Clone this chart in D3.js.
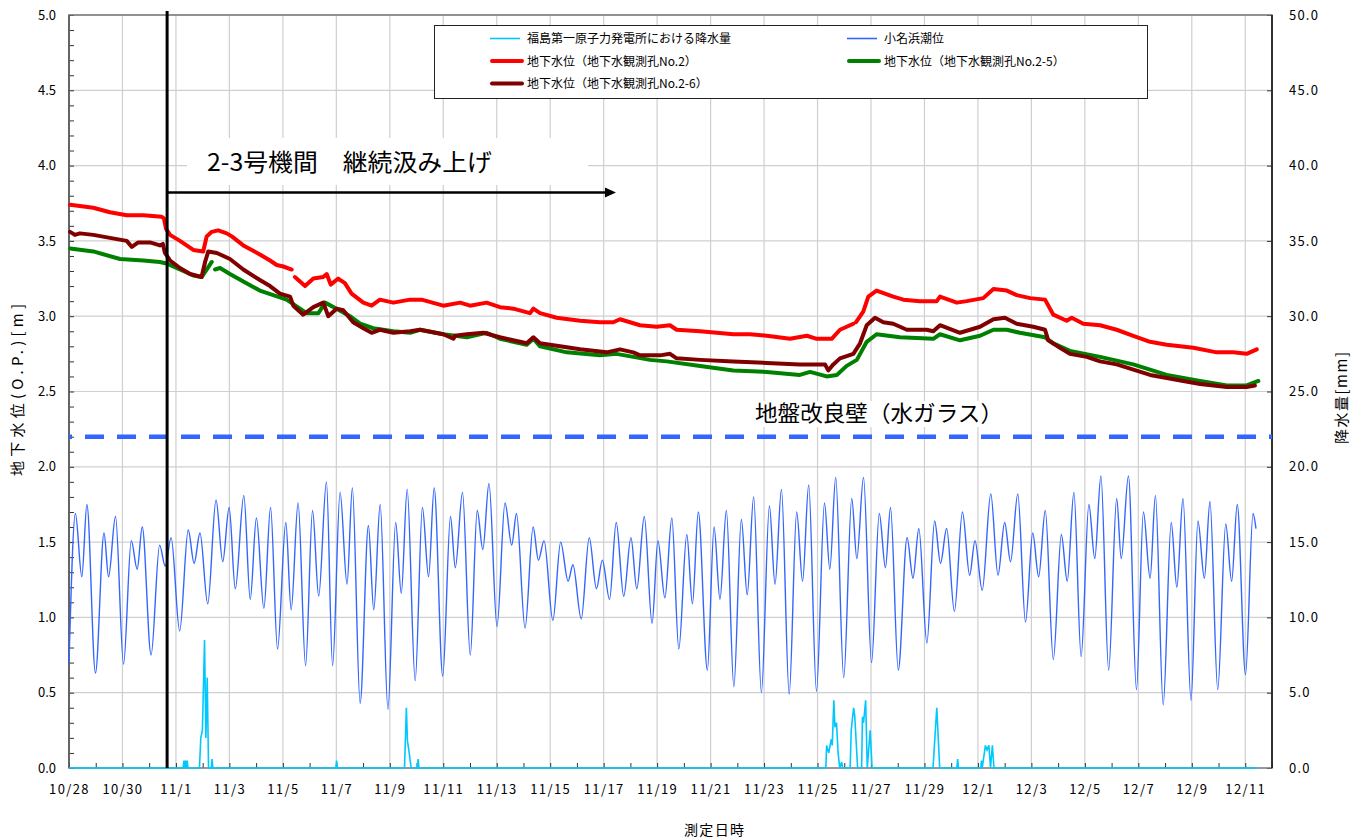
<!DOCTYPE html>
<html>
<head>
<meta charset="utf-8">
<script src="https://cdn.jsdelivr.net/npm/d3@7"></script>
<style>
  body { margin: 0; background: #fff; }
  svg { display: block; font-family: "Noto Sans CJK JP", "Noto Sans", sans-serif; }
</style>
</head>
<body>
<svg id="chart" width="1353" height="840"></svg>
<script>
// Time axis: days elapsed since 10/28 00:00
const dayTicks = d3.range(0, 45, 2);
const dayLabels = ["10/28","10/30","11/1","11/3","11/5","11/7","11/9","11/11","11/13","11/15",
  "11/17","11/19","11/21","11/23","11/25","11/27","11/29","12/1","12/3","12/5","12/7","12/9","12/11"];
const levelTicks = d3.range(0, 5.01, 0.5);
const rainTicks = d3.range(0, 50.1, 5);

// Rainfall at Fukushima Daiichi [mm]  (day, value)
const rain = [
  [0,0],[4.27,0],[4.30,0.5],[4.33,0],[4.36,0.5],[4.39,0],[4.42,0.5],[4.45,0],
  [4.88,0],[4.93,2.0],[4.99,2.5],[5.07,8.5],[5.12,2.0],[5.17,6.0],[5.22,0],
  [5.32,0],[5.35,0.6],[5.38,0],
  [9.98,0],[10.01,0.5],[10.04,0],
  [12.55,0],[12.62,4.0],[12.66,1.8],[12.71,1.2],[12.80,0],
  [13.03,0],[13.06,0.6],[13.09,0],
  [28.31,0],[28.34,1.5],[28.42,1.0],[28.51,1.9],[28.55,1.5],[28.61,4.5],[28.65,2.7],
  [28.71,3.0],[28.77,1.0],[28.83,0],[28.90,0.4],[28.94,0],
  [29.22,0],[29.26,2.5],[29.35,4.0],[29.39,3.5],[29.50,0],
  [29.65,0],[29.68,3.4],[29.72,3.0],[29.80,4.5],[29.86,0],[29.97,2.5],[30.04,0],
  [32.32,0],[32.46,4.0],[32.57,0],
  [33.21,0],[33.24,0.6],[33.27,0],
  [34.11,0],[34.13,0.5],[34.16,0],[34.28,1.5],[34.34,1.2],[34.41,1.5],[34.47,0],[34.54,1.5],[34.60,0],
  [44.45,0]
];

// Onahama tide level [m] (successive highs and lows)
const tide = [
  [0.00,0.70],[0.24,1.69],[0.48,1.27],[0.67,1.75],[0.99,0.63],[1.31,1.56],[1.48,1.27],[1.74,1.67],
  [2.04,0.69],[2.33,1.51],[2.55,1.32],[2.74,1.60],[3.07,0.75],[3.39,1.48],[3.60,1.34],[3.82,1.53],
  [4.14,0.91],[4.46,1.58],[4.68,1.36],[4.90,1.56],[5.19,1.09],[5.50,1.78],[5.75,1.37],[5.99,1.73],
  [6.22,1.19],[6.54,1.81],[6.78,1.12],[7.01,1.66],[7.29,1.06],[7.54,1.73],[7.80,0.79],[8.11,1.63],
  [8.31,1.05],[8.57,1.76],[8.85,0.68],[9.11,1.71],[9.34,1.14],[9.63,1.90],[9.86,0.68],[10.14,1.83],
  [10.40,1.22],[10.60,1.86],[10.89,0.43],[11.20,1.61],[11.40,1.05],[11.64,1.75],[11.93,0.39],[12.22,1.63],
  [12.43,1.16],[12.65,1.85],[12.95,0.58],[13.22,1.73],[13.45,1.27],[13.66,1.86],[13.98,0.61],[14.27,1.67],
  [14.45,1.33],[14.72,1.83],[15.01,0.75],[15.27,1.71],[15.48,1.45],[15.71,1.89],[16.01,0.94],[16.31,1.76],
  [16.56,1.48],[16.74,1.69],[17.06,0.93],[17.36,1.60],[17.56,1.38],[17.77,1.51],[18.10,0.98],[18.39,1.50],
  [18.67,1.24],[18.85,1.35],[19.16,0.99],[19.46,1.53],[19.73,1.19],[19.95,1.38],[20.22,1.12],[20.47,1.63],
  [20.75,1.14],[21.02,1.53],[21.24,1.19],[21.52,1.67],[21.81,0.96],[22.03,1.51],[22.29,1.13],[22.55,1.66],
  [22.81,0.79],[23.11,1.55],[23.32,1.09],[23.54,1.70],[23.88,0.65],[24.13,1.60],[24.35,1.12],[24.59,1.71],
  [24.87,0.54],[25.15,1.65],[25.37,1.15],[25.61,1.80],[25.90,0.50],[26.20,1.74],[26.41,1.22],[26.65,1.85],
  [26.94,0.49],[27.22,1.70],[27.44,1.24],[27.67,1.88],[27.96,0.51],[28.26,1.76],[28.46,1.32],[28.68,1.93],
  [28.98,0.60],[29.28,1.79],[29.47,1.39],[29.72,1.93],[30.02,0.70],[30.31,1.69],[30.54,1.33],[30.73,1.73],
  [31.02,0.65],[31.35,1.53],[31.57,1.26],[31.79,1.59],[32.09,0.83],[32.38,1.64],[32.60,1.36],[32.83,1.59],
  [33.12,1.04],[33.42,1.70],[33.69,1.28],[33.89,1.51],[34.16,1.18],[34.48,1.82],[34.75,1.28],[35.00,1.63],
  [35.22,1.37],[35.49,1.82],[35.78,0.97],[36.05,1.56],[36.27,1.27],[36.52,1.71],[36.82,0.72],[37.12,1.55],
  [37.34,1.24],[37.59,1.83],[37.86,0.74],[38.15,1.75],[38.37,1.39],[38.60,1.94],[38.89,0.65],[39.19,1.79],
  [39.36,1.39],[39.63,1.94],[39.93,0.52],[40.19,1.70],[40.44,1.26],[40.64,1.81],[40.93,0.42],[41.23,1.63],
  [41.44,1.20],[41.67,1.79],[41.97,0.45],[42.23,1.64],[42.47,1.26],[42.68,1.77],[42.97,0.52],[43.27,1.62],
  [43.49,1.24],[43.70,1.75],[44.01,0.62],[44.29,1.69],[44.40,1.59]
];

// Groundwater level, observation well No.2 [m]  (null = missing)
const well2 = [
  [0.04,3.74],[0.91,3.72],[1.53,3.69],[2.16,3.67],[2.78,3.67],[3.47,3.66],[3.55,3.65],[3.63,3.58],
  [3.78,3.54],[4.15,3.50],[4.65,3.44],[5.02,3.43],[5.15,3.53],[5.34,3.56],[5.58,3.57],[5.90,3.55],
  [6.09,3.53],[6.52,3.47],[7.14,3.41],[7.52,3.37],[7.77,3.34],[8.02,3.33],[8.33,3.31],[8.39,null],
  [8.45,3.26],[8.83,3.20],[9.14,3.25],[9.51,3.26],[9.64,3.28],[9.79,3.21],[10.07,3.25],[10.32,3.22],
  [10.57,3.15],[11.01,3.09],[11.32,3.07],[11.63,3.11],[12.13,3.09],[12.76,3.11],[13.19,3.11],[14.00,3.07],
  [14.63,3.09],[15.00,3.07],[15.62,3.09],[16.12,3.06],[16.62,3.05],[17.24,3.02],[17.37,3.05],[17.62,3.02],
  [18.24,2.99],[19.12,2.97],[19.86,2.96],[20.36,2.96],[20.61,2.98],[21.36,2.94],[21.98,2.93],[22.48,2.94],
  [22.73,2.91],[23.61,2.90],[24.23,2.89],[24.85,2.88],[25.47,2.88],[26.10,2.87],[26.97,2.85],[27.60,2.87],
  [27.97,2.85],[28.53,2.85],[28.84,2.91],[29.34,2.95],[29.39,null],[29.44,2.96],[29.71,3.03],[29.90,3.13],
  [30.21,3.17],[30.83,3.13],[31.21,3.11],[31.83,3.10],[32.46,3.10],[32.58,3.13],[33.21,3.09],[33.58,3.10],
  [34.20,3.12],[34.58,3.18],[35.08,3.17],[35.45,3.14],[35.95,3.12],[36.51,3.11],[36.82,3.01],[37.32,2.97],
  [37.51,2.99],[37.94,2.95],[38.57,2.94],[39.19,2.91],[39.81,2.87],[40.44,2.83],[41.06,2.81],[42.06,2.79],
  [42.93,2.76],[43.55,2.76],[44.05,2.75],[44.43,2.78]
];

// Groundwater level, observation well No.2-5 [m]
const well25 = [
  [0.04,3.45],[0.91,3.43],[1.91,3.38],[2.78,3.37],[3.40,3.36],[3.65,3.35],[4.15,3.31],[4.65,3.27],
  [4.96,3.26],[5.15,3.31],[5.34,3.36],[5.40,null],[5.46,3.31],[5.65,3.32],[6.02,3.28],[6.52,3.23],
  [7.14,3.17],[7.64,3.14],[8.14,3.11],[8.64,3.05],[8.89,3.02],[9.33,3.02],[9.58,3.09],[10.01,3.05],
  [10.51,3.00],[10.89,2.95],[11.38,2.92],[12.13,2.90],[12.76,2.89],[13.13,2.91],[14.00,2.88],[14.88,2.86],
  [15.62,2.89],[16.12,2.85],[17.12,2.81],[17.37,2.85],[17.62,2.80],[18.62,2.76],[19.86,2.74],[20.48,2.75],
  [21.11,2.73],[21.73,2.71],[22.36,2.70],[23.61,2.67],[24.85,2.64],[26.10,2.63],[27.34,2.61],[27.72,2.63],
  [28.34,2.60],[28.72,2.61],[29.09,2.67],[29.47,2.71],[29.84,2.83],[30.21,2.88],[31.08,2.86],[32.33,2.85],
  [32.58,2.88],[33.33,2.84],[34.08,2.87],[34.58,2.91],[35.08,2.91],[35.57,2.89],[36.51,2.86],[36.82,2.82],
  [37.44,2.77],[38.57,2.73],[39.81,2.68],[41.06,2.61],[42.31,2.57],[43.31,2.54],[44.05,2.54],[44.49,2.57]
];

// Groundwater level, observation well No.2-6 [m]
const well26 = [
  [0.04,3.56],[0.22,3.54],[0.41,3.55],[0.91,3.54],[1.53,3.52],[2.16,3.50],[2.35,3.46],[2.59,3.49],
  [3.03,3.49],[3.40,3.47],[3.51,3.48],[3.59,3.42],[3.78,3.37],[4.15,3.32],[4.53,3.28],[4.96,3.26],
  [5.09,3.36],[5.21,3.43],[5.53,3.42],[6.02,3.38],[6.52,3.31],[7.14,3.24],[7.52,3.20],[7.89,3.15],
  [8.27,3.13],[8.39,3.07],[8.76,3.01],[9.14,3.06],[9.51,3.09],[9.70,3.00],[10.01,3.05],[10.26,3.04],
  [10.63,2.96],[11.01,2.92],[11.32,2.89],[11.63,2.91],[12.13,2.89],[12.76,2.90],[13.13,2.91],[14.00,2.88],
  [14.38,2.85],[14.44,2.87],[14.88,2.88],[15.50,2.89],[16.12,2.86],[17.12,2.82],[17.37,2.86],[17.62,2.82],
  [18.37,2.80],[19.12,2.78],[20.11,2.76],[20.61,2.78],[21.11,2.76],[21.36,2.74],[22.11,2.74],[22.48,2.75],
  [22.73,2.72],[23.61,2.71],[24.85,2.70],[26.10,2.69],[27.34,2.68],[28.28,2.68],[28.40,2.64],[28.59,2.68],
  [28.84,2.72],[29.34,2.75],[29.59,2.82],[29.84,2.94],[30.15,2.99],[30.46,2.96],[30.83,2.95],[31.34,2.91],
  [32.08,2.91],[32.33,2.90],[32.58,2.94],[33.33,2.89],[34.08,2.93],[34.58,2.98],[35.01,2.99],[35.45,2.95],
  [36.07,2.93],[36.51,2.91],[36.63,2.84],[37.07,2.79],[37.44,2.75],[38.07,2.73],[38.57,2.70],[39.19,2.68],
  [40.44,2.61],[41.68,2.57],[42.31,2.55],[43.31,2.53],[44.05,2.53],[44.36,2.54]
];

const barrierLevel = 2.2;     // ground improvement wall (water glass)
const pumpStart = 3.67;       // start of continuous pumping between Units 2-3
const pumpArrowEnd = 20.46;

// ---- layout ----
const svg = d3.select("#chart");
const L = 69, R = 1272, T = 15, B = 768;
const x = d3.scaleLinear().domain([0, 45]).range([L, R]);
const y = d3.scaleLinear().domain([0, 5]).range([B, T]);
const yR = d3.scaleLinear().domain([0, 50]).range([B, T]);

const gridColor = "#cfcfcf";

// grid
const grid = svg.append("g");
grid.selectAll(".vg").data(dayTicks.slice(1)).join("line")
  .attr("x1", d => x(d)).attr("x2", d => x(d)).attr("y1", T).attr("y2", B)
  .attr("stroke", gridColor).attr("stroke-width", 1.2);
grid.selectAll(".hg").data(levelTicks.slice(1)).join("line")
  .attr("x1", L).attr("x2", R).attr("y1", d => y(d)).attr("y2", d => y(d))
  .attr("stroke", gridColor).attr("stroke-width", 1.2);

// annotation backgrounds (hide grid behind labels)
svg.append("rect").attr("x", 187).attr("y", 138).attr("width", 401).attr("height", 47).attr("fill", "#fff");
svg.append("rect").attr("x", 750).attr("y", 401).attr("width", 260).attr("height", 26).attr("fill", "#fff");

// axes
const fontSize = 13;
const axL = svg.append("g").attr("transform", `translate(${L},0)`)
  .call(d3.axisLeft(y).tickValues(d3.range(0, 5.001, 0.1)).tickSize(-5).tickFormat(""));
const axLlab = svg.append("g").attr("transform", `translate(${L},0)`)
  .call(d3.axisLeft(y).tickValues(levelTicks).tickSize(0).tickPadding(13).tickFormat(d3.format(".1f")));
const axR = svg.append("g").attr("transform", `translate(${R},0)`)
  .call(d3.axisRight(yR).tickValues(rainTicks).tickSize(-5).tickPadding(17).tickFormat(d3.format(".1f")));
const axB = svg.append("g").attr("transform", `translate(0,${B})`)
  .call(d3.axisBottom(x).tickValues(d3.range(0, 45.01, 1)).tickSize(-5).tickFormat(""));
const axBlab = svg.append("g").attr("transform", `translate(0,${B})`)
  .call(d3.axisBottom(x).tickValues(dayTicks).tickSize(0).tickPadding(17).tickFormat((d, i) => dayLabels[i]));

[axL, axLlab, axR, axB, axBlab].forEach(g => {
  g.select(".domain").remove();
  g.selectAll(".tick line").attr("stroke", "#333").attr("stroke-width", 1);
  g.selectAll("text").attr("font-size", fontSize).attr("fill", "#000")
    .attr("font-family", '"Noto Sans CJK JP", "Noto Sans", sans-serif');
});
axR.selectAll("text").attr("letter-spacing", 1.2);
axBlab.selectAll("text").attr("letter-spacing", 1.4);

// frame
svg.append("rect").attr("x", L).attr("y", T).attr("width", R - L).attr("height", B - T)
  .attr("fill", "none").attr("stroke", "#777").attr("stroke-width", 1.5);
svg.append("line").attr("x1", R).attr("x2", R).attr("y1", T).attr("y2", B)
  .attr("stroke", "#111").attr("stroke-width", 1.5);
svg.append("line").attr("x1", L).attr("x2", L).attr("y1", T).attr("y2", B)
  .attr("stroke", "#555").attr("stroke-width", 1.5);

// series
const plot = svg.append("g");
const rainLine = d3.line().x(d => x(d[0])).y(d => yR(d[1]));
const tideLine = d3.line().x(d => x(d[0])).y(d => y(d[1])).curve(d3.curveMonotoneX);
const wellLine = d3.line().defined(d => d[1] !== null).x(d => x(d[0])).y(d => y(d[1]));

plot.append("path").datum(tide).attr("d", tideLine)
  .attr("fill", "none").attr("stroke", "#3366ff").attr("stroke-width", 1.4);
plot.append("path").datum(rain).attr("d", rainLine)
  .attr("fill", "none").attr("stroke", "#00c8ff").attr("stroke-width", 1.6);

const wells = [
  { data: well25, color: "#008000" },
  { data: well26, color: "#800000" },
  { data: well2, color: "#ff0000" }
];
wells.forEach(w => {
  plot.append("path").datum(w.data).attr("d", wellLine)
    .attr("fill", "none").attr("stroke", w.color).attr("stroke-width", 4)
    .attr("stroke-linejoin", "round").attr("stroke-linecap", "round");
});

// ground improvement wall level
plot.append("line").attr("x1", L).attr("x2", R)
  .attr("y1", y(barrierLevel)).attr("y2", y(barrierLevel))
  .attr("stroke", "#3366ff").attr("stroke-width", 4.5)
  .attr("stroke-dasharray", "19 13").attr("stroke-dashoffset", 16);

svg.append("text").attr("x", 755).attr("y", 421)
  .attr("font-size", 22).attr("fill", "#000").attr("textLength", 248).attr("lengthAdjust", "spacingAndGlyphs")
  .text("地盤改良壁（水ガラス）");

// pumping period marker
svg.append("line").attr("x1", x(pumpStart)).attr("x2", x(pumpStart)).attr("y1", 11).attr("y2", B)
  .attr("stroke", "#000").attr("stroke-width", 3);
const ay = 192.5;
svg.append("line").attr("x1", x(pumpStart)).attr("x2", x(pumpArrowEnd) - 8).attr("y1", ay).attr("y2", ay)
  .attr("stroke", "#000").attr("stroke-width", 2.5);
svg.append("path")
  .attr("d", `M${x(pumpArrowEnd)},${ay} L${x(pumpArrowEnd) - 11},${ay - 5} L${x(pumpArrowEnd) - 11},${ay + 5} Z`)
  .attr("fill", "#000");
svg.append("text").attr("x", 207).attr("y", 171)
  .attr("font-size", 24).attr("fill", "#000").attr("textLength", 285).attr("lengthAdjust", "spacingAndGlyphs")
  .text("2-3号機間　継続汲み上げ");

// axis titles
svg.append("text").attr("transform", "translate(23,390) rotate(-90)")
  .attr("text-anchor", "middle").attr("font-size", 15)
  .attr("textLength", 172).attr("lengthAdjust", "spacing").text("地下水位(O.P.)[m]");
svg.append("text").attr("transform", "translate(1347,398) rotate(-90)")
  .attr("text-anchor", "middle").attr("font-size", 15)
  .attr("textLength", 92).attr("lengthAdjust", "spacing").text("降水量[mm]");
svg.append("text").attr("x", 714).attr("y", 835)
  .attr("text-anchor", "middle").attr("font-size", 14)
  .attr("textLength", 60).attr("lengthAdjust", "spacing").text("測定日時");

// legend
const leg = svg.append("g");
leg.append("rect").attr("x", 434.5).attr("y", 25.5).attr("width", 713).attr("height", 73)
  .attr("fill", "#fff").attr("stroke", "#222").attr("stroke-width", 1);
const legendItems = [
  { label: "福島第一原子力発電所における降水量", color: "#00c8ff", w: 1.6, col: 0, row: 0 },
  { label: "小名浜潮位", color: "#3366ff", w: 1.6, col: 1, row: 0 },
  { label: "地下水位（地下水観測孔No.2）", color: "#ff0000", w: 4, col: 0, row: 1 },
  { label: "地下水位（地下水観測孔No.2-5）", color: "#008000", w: 4, col: 1, row: 1 },
  { label: "地下水位（地下水観測孔No.2-6）", color: "#800000", w: 4, col: 0, row: 2 }
];
const colX = [490, 847], rowY = [38.5, 61, 83.5];
legendItems.forEach(it => {
  const lx = colX[it.col], ly = rowY[it.row];
  leg.append("line").attr("x1", lx + (it.w > 2 ? 2 : 0)).attr("x2", lx + (it.w > 2 ? 32 : 30))
    .attr("y1", ly).attr("y2", ly)
    .attr("stroke", it.color).attr("stroke-width", it.w).attr("stroke-linecap", it.w > 2 ? "round" : "butt");
  leg.append("text").attr("x", lx + 37).attr("y", ly + 4.5)
    .attr("font-size", 12).attr("fill", "#000").text(it.label);
});
</script>
</body>
</html>
